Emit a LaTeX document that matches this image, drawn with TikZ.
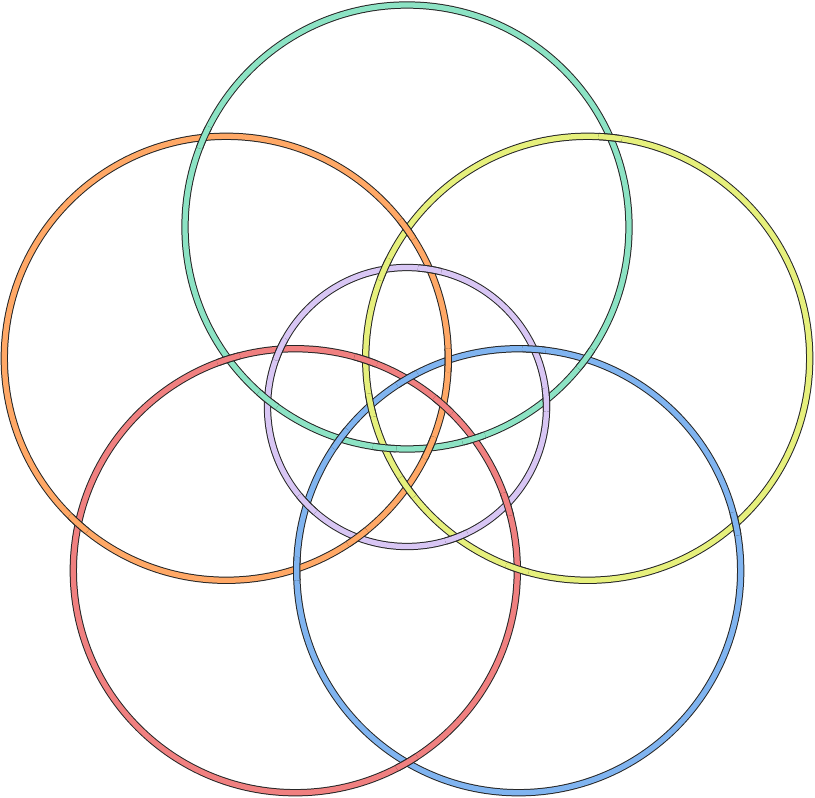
\documentclass[tikz,border=0pt]{standalone}
\begin{document}
\begin{tikzpicture}[x=1pt, y=-1pt]
  \definecolor{coulG}{RGB}{140,227,196} \definecolor{coulO}{RGB}{255,168,102} \definecolor{coulY}{RGB}{230,240,124}
  \definecolor{coulR}{RGB}{240,128,128} \definecolor{coulB}{RGB}{128,180,240} \definecolor{coulP}{RGB}{216,198,244}
  \tikzstyle{bord}=[line width=7.3pt, black!85]
  \tikzstyle{fond}=[line width=5.3pt]
  \useasboundingbox (0,0) rectangle (815,798);
  \foreach \c/\x/\y/\r in {G/407/227/222, Y/587.70/358.29/222, B/518.68/570.71/222, R/295.32/570.71/222, O/226.30/358.29/222, P/407/407/139.5} {
    \coordinate (c\c) at (\x,\y);
    \draw[bord] (c\c) circle[radius=\r pt];
    \draw[fond, coul\c] (c\c) circle[radius=\r pt];
  }
          %dessus
  \foreach \c/\x/\y in {Y/610.12/137.43, B/735.66/523.79, R/407/762.57, O/78.34/523.79, G/203.88/137.43,
      G/384.58/447.86, Y/370.72/405.21, B/407/378.85, R/443.28/405.21, O/429.42/447.86,
      G/585.49/359.01, Y/517.31/568.83, B/296.69/568.83, R/228.51/359.01, O/407/229.33,
      B/340.19/438.71, R/365.71/360.17, O/448.29/360.17, G/473.81/438.71, Y/407/487.25,
      G/267.68/399.84, Y/384.28/269.36, B/533.98/349.24, R/507.10/504.16, O/357.46/537.40} {
    \begin{scope}
      \clip (\x,\y) circle[radius=12pt];
      \draw[bord] (c\c) circle[radius=222pt];
      \draw[fond, coul\c] (c\c) circle[radius=222pt];
    \end{scope}
  }
  \foreach \x/\y in {280.02/349.24, 429.72/269.36, 546.32/399.84, 456.54/537.40, 306.90/504.16} {
    \begin{scope}
      \clip (\x,\y) circle[radius=12pt];
      \draw[bord] (cP) circle[radius=139.5pt];
      \draw[fond, coulP] (cP) circle[radius=139.5pt];
    \end{scope}
  }
\end{tikzpicture}
\end{document}
